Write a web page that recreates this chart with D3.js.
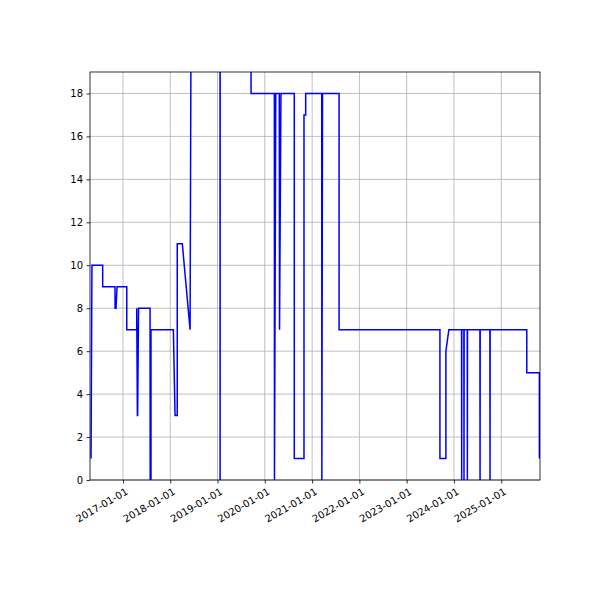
<!DOCTYPE html><html><head><script src="https://cdn.jsdelivr.net/npm/d3@7"></script>
<style>body{margin:0;background:#fff}text{font-family:"DejaVu Sans";font-size:10px}</style></head><body>
<svg id="c" width="600" height="600"></svg>
<script>
const dates=["2016-04-29","2016-05-06","2016-07-28","2016-07-28","2016-10-31","2016-11-01","2016-11-08","2016-11-16","2016-11-16","2017-01-30","2017-01-30","2017-04-17","2017-04-17","2017-04-22","2017-04-24","2017-05-01","2017-05-12","2017-07-29","2017-07-30","2017-08-05","2017-08-05","2018-01-25","2018-02-07","2018-02-24","2018-02-24","2018-04-04","2018-06-03","2018-06-20","2019-01-20","2019-01-21","2019-01-22","2019-09-17","2019-09-17","2020-03-15","2020-03-16","2020-03-26","2020-04-22","2020-04-24","2020-05-05","2020-08-16","2020-08-16","2020-10-30","2020-10-30","2020-11-12","2020-11-12","2021-03-16","2021-03-17","2021-03-22","2021-07-28","2021-07-28","2023-09-15","2023-09-15","2023-10-31","2023-10-31","2023-11-23","2024-02-29","2024-03-01","2024-03-02","2024-03-18","2024-03-19","2024-03-20","2024-04-13","2024-04-14","2024-04-15","2024-07-20","2024-07-21","2024-07-22","2024-10-05","2024-10-06","2024-10-07","2025-07-17","2025-07-17","2025-10-22","2025-10-22"];
const values=[1,10,10,9,9,8,8,9,9,9,7,7,8,3,3,8,8,8,0,0,7,7,3,3,11,11,7,40,40,0,40,40,18,18,0,18,18,7,18,18,1,1,17,17,18,18,0,18,18,7,7,1,1,6,7,7,0,7,7,0,7,7,0,7,7,0,7,7,0,7,7,5,5,1];
const yTicks=[0,2,4,6,8,10,12,14,16,18];
const xTicks=["2017-01-01","2018-01-01","2019-01-01","2020-01-01","2021-01-01","2022-01-01","2023-01-01","2024-01-01","2025-01-01"];
const p=d3.timeParse("%Y-%m-%d");
const data=dates.map((d,i)=>({d:p(d),v:values[i]}));
const L=90,R=540,T=72,B=480;
const x=d3.scaleTime().domain([p("2016-04-21"),p("2025-10-27")]).range([L,R]);
const y=d3.scaleLinear().domain([0,19]).range([B,T]);
const svg=d3.select("#c");
const g=svg.append("g");
g.selectAll(".gx").data(xTicks).join("line").attr("x1",d=>x(p(d))).attr("x2",d=>x(p(d))).attr("y1",T).attr("y2",B).attr("stroke","#b0b0b0").attr("stroke-width",0.8);
g.selectAll(".gy").data(yTicks).join("line").attr("y1",d=>y(d)).attr("y2",d=>y(d)).attr("x1",L).attr("x2",R).attr("stroke","#b0b0b0").attr("stroke-width",0.8);
svg.append("clipPath").attr("id","cp").append("rect").attr("x",L).attr("y",T).attr("width",R-L).attr("height",B-T);
svg.append("path").datum(data).attr("clip-path","url(#cp)").attr("fill","none").attr("stroke","#0000ff").attr("stroke-width",1.5)
 .attr("d",d3.line().x(d=>x(d.d)).y(d=>y(d.v)));
svg.append("rect").attr("x",L).attr("y",T).attr("width",R-L).attr("height",B-T).attr("fill","none").attr("stroke","#000").attr("stroke-width",0.8);
const ya=svg.append("g").attr("transform",`translate(${L},0)`).call(d3.axisLeft(y).tickValues(yTicks).tickSize(3.5).tickPadding(3.5));
const xa=svg.append("g").attr("transform",`translate(0,${B})`).call(d3.axisBottom(x).tickValues(xTicks.map(p)).tickFormat(d3.timeFormat("%Y-%m-%d")).tickSize(3.5));
xa.selectAll("text").attr("text-anchor","end").attr("dy",0).attr("transform","translate(2,8) rotate(-30)");
[ya,xa].forEach(a=>{a.select(".domain").remove();a.selectAll("text").attr("fill","#000").style("font-size","10px");a.selectAll("line").attr("stroke","#000").attr("stroke-width",0.8);});
</script></body></html>
